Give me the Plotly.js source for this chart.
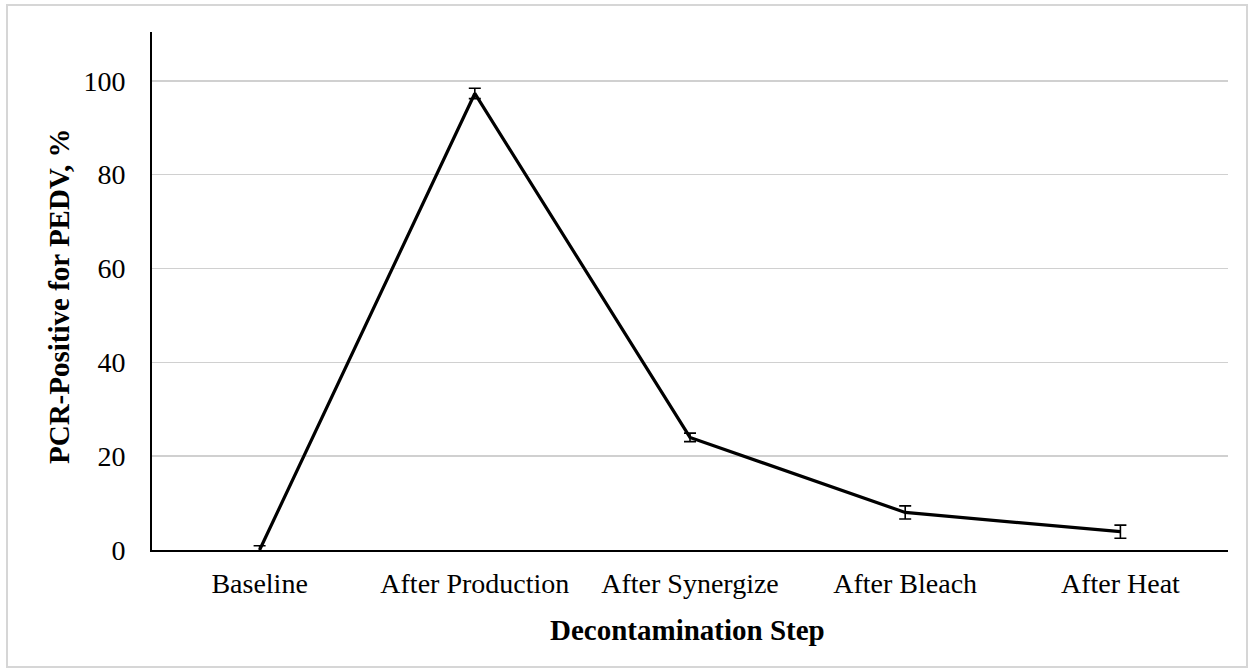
<!DOCTYPE html>
<html>
<head>
<meta charset="utf-8">
<script src="https://cdn.plot.ly/plotly-3.0.1.min.js"></script>
<style>html,body{margin:0;padding:0;background:#fff;}#chart{width:1256px;height:672px;}</style>
</head>
<body>
<div id="chart"></div>
<script>
const categories = ["Baseline", "After Production", "After Synergize", "After Bleach", "After Heat"];
const positivePct = [0, 97.3, 24.0, 8.0, 3.9];
const errorPct = [0.9, 1.1, 0.9, 1.4, 1.4];
const yTicks = [0, 20, 40, 60, 80, 100];
const xTitle = "Decontamination Step";
const yTitle = "PCR-Positive for PEDV, %";

const trace = {
  x: categories,
  y: positivePct,
  type: "scatter",
  mode: "lines",
  line: {color: "#000000", width: 3.2},
  error_y: {type: "data", array: errorPct, visible: true, color: "#000000", thickness: 1.6, width: 6},
  hoverinfo: "x+y"
};

const L = 152, R = 1228, T = 32, B = 550, W = 1256, H = 672;
const pw = R - L, ph = B - T;
function px(x){ return (x - L) / pw; }
function py(y){ return (B - y) / ph; }
const serif = "Liberation Serif, Times New Roman, serif";

const layout = {
  width: W, height: H,
  margin: {l: L, r: W - R, t: T, b: H - B},
  paper_bgcolor: "#ffffff",
  plot_bgcolor: "#ffffff",
  showlegend: false,
  font: {family: serif, color: "#000000", size: 28},
  xaxis: {
    type: "category",
    range: [-0.5, 4.5],
    showline: true, linecolor: "#000000", linewidth: 2,
    showgrid: false, zeroline: false,
    ticks: "outside", ticklen: 7, tickcolor: "rgba(0,0,0,0)",
    tickfont: {size: 28, family: serif}
  },
  yaxis: {
    range: [0, 110.4],
    tickvals: yTicks,
    ticktext: yTicks.map(String),
    showline: true, linecolor: "#000000", linewidth: 2,
    showgrid: true, gridcolor: "#d0d0d0", gridwidth: 1.5,
    zeroline: false,
    ticks: "outside", ticklen: 19, tickcolor: "rgba(0,0,0,0)",
    tickfont: {size: 28, family: serif}
  },
  annotations: [
    {text: "<b>" + xTitle + "</b>", xref: "paper", yref: "paper", x: px(687), y: py(630),
     xanchor: "center", yanchor: "middle", showarrow: false, font: {size: 29, family: serif}},
    {text: "<b>" + yTitle + "</b>", xref: "paper", yref: "paper", x: px(59), y: py(296),
     xanchor: "center", yanchor: "middle", textangle: -90, showarrow: false, font: {size: 29, family: serif}}
  ],
  shapes: [{
    type: "rect", xref: "paper", yref: "paper",
    x0: px(7), x1: px(1247), y0: py(667), y1: py(5),
    line: {color: "#d6d6d6", width: 2}, fillcolor: "rgba(0,0,0,0)", layer: "below"
  }]
};

Plotly.newPlot("chart", [trace], layout, {displayModeBar: false, staticPlot: true});
</script>
</body>
</html>
